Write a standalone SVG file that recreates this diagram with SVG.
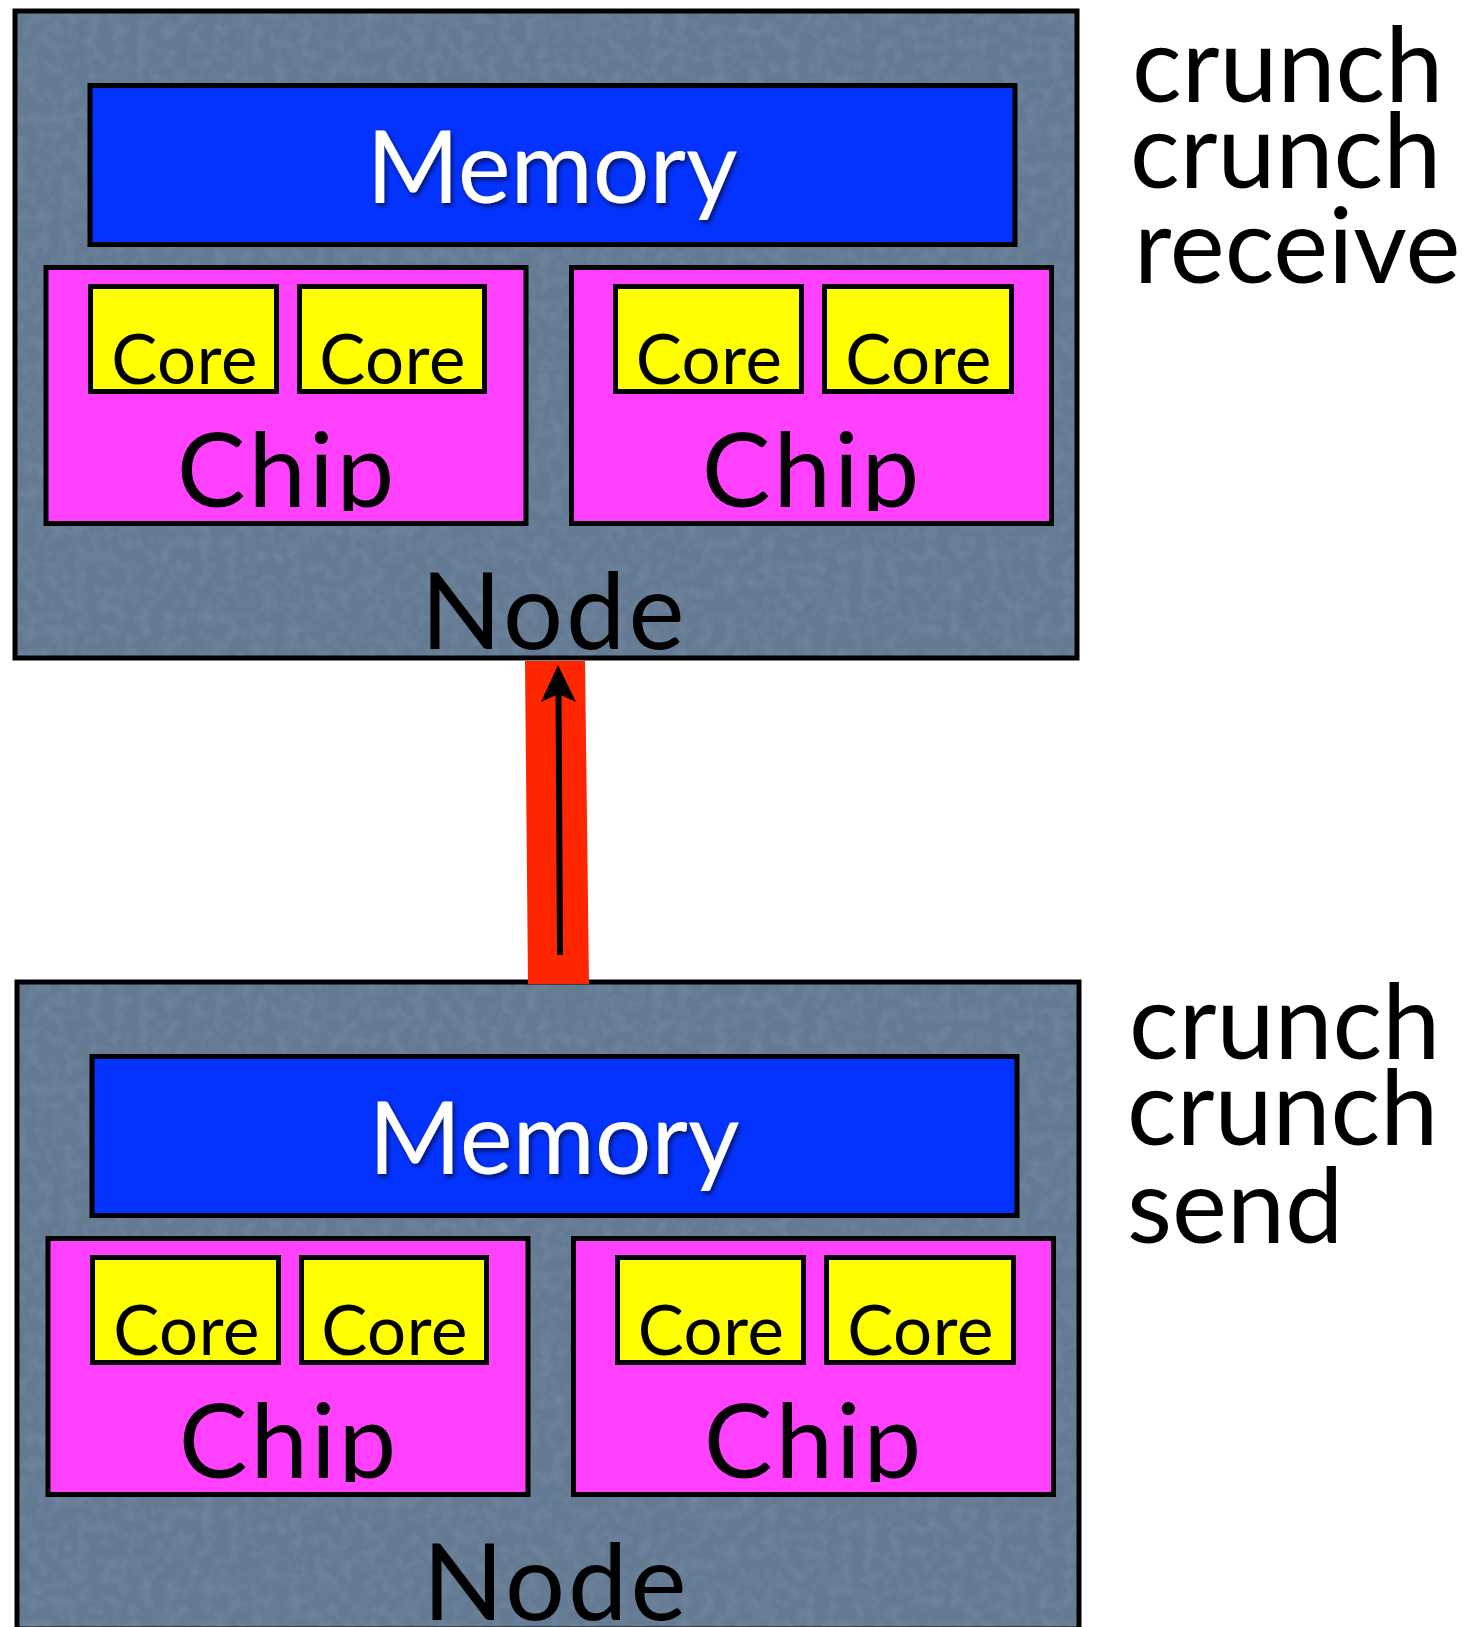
<svg xmlns="http://www.w3.org/2000/svg" width="1463" height="1627" viewBox="0 0 1463 1627">
<style>
.node{fill:#647a93;stroke:#000;stroke-width:5}
.mem{fill:#0433ff;stroke:#000;stroke-width:5}
.chip{fill:#ff40ff;stroke:#000;stroke-width:5}
.core{fill:#ffff00;stroke:#000;stroke-width:5}
text{font-family:Lato,"Liberation Sans",sans-serif;}
.memt{fill:#fff;font-size:100px;text-anchor:middle}
.coret{fill:#000;font-size:69px;text-anchor:middle;letter-spacing:0.5px}
.chipt{fill:#000;font-size:103px;text-anchor:middle;letter-spacing:3px}
.nodet{fill:#000;font-size:106px;text-anchor:middle;letter-spacing:3px}
.side{fill:#000;font-size:104px}
</style>
<defs>
<filter id="tex" x="0" y="0" width="100%" height="100%">
<feTurbulence type="fractalNoise" baseFrequency="0.08" numOctaves="3" seed="4" result="n"/>
<feColorMatrix type="matrix" values="0 0 0 0 0.45  0 0 0 0 0.55  0 0 0 0 0.65  0 0 0 0.9 -0.35" in="n" result="c"/>
<feComposite in="c" in2="SourceGraphic" operator="in"/>
</filter>
<filter id="sh" x="-10%" y="-10%" width="120%" height="130%">
<feDropShadow dx="2" dy="3" stdDeviation="2.5" flood-color="#000" flood-opacity="0.6"/>
</filter>
<clipPath id="chipclip"><rect x="0" y="0" width="1463" height="511"/></clipPath>
<symbol id="nodeSym" overflow="visible">
<rect class="node" x="15" y="11" width="1062" height="647"/>
<rect x="17.5" y="13.5" width="1057" height="642" fill="#fff" filter="url(#tex)" opacity="0.35"/>
<g id="mem"><rect class="mem" x="90" y="85.5" width="925" height="159"/>
<text class="memt" x="552" y="203" filter="url(#sh)">Memory</text></g>
<g><rect class="chip" x="46" y="267.5" width="480" height="256"/>
<rect class="core" x="90.5" y="286.5" width="186" height="105"/>
<text class="coret" x="184.5" y="384">Core</text>
<rect class="core" x="299.5" y="286.5" width="185" height="105"/>
<text class="coret" x="392.5" y="384">Core</text>
<text class="chipt" x="287" y="507" clip-path="url(#chipclip)">Chip</text></g>
<g><rect class="chip" x="571.5" y="267.5" width="480" height="256"/>
<rect class="core" x="615.5" y="286.5" width="186" height="105"/>
<text class="coret" x="709" y="384">Core</text>
<rect class="core" x="824.5" y="286.5" width="187" height="105"/>
<text class="coret" x="918.5" y="384">Core</text>
<text class="chipt" x="812" y="507" clip-path="url(#chipclip)">Chip</text></g>
<text class="nodet" x="554" y="649">Node</text>
</symbol>
</defs>
<rect width="1463" height="1627" fill="#fff"/>
<g id="node-receiver"><use href="#nodeSym"/></g>
<g id="node-sender"><use href="#nodeSym" transform="translate(2,971)"/></g>
<g id="connectors">
<polygon points="525,661 585,661 589,984 528,984" fill="#ff2600"/>
<line x1="560" y1="955" x2="558.5" y2="692" stroke="#000" stroke-width="6"/>
<path d="M558,665 L576,702 L558.5,694 L541,702 Z" fill="#000"/>
</g>
<g id="text-receive">
<text class="side" x="1132" y="102">crunch</text>
<text class="side" x="1130" y="188">crunch</text>
<text class="side" x="1134" y="283">receive</text>
</g>
<g id="text-send">
<text class="side" x="1129" y="1059">crunch</text>
<text class="side" x="1127" y="1145">crunch</text>
<text class="side" x="1127" y="1243">send</text>
</g>
</svg>
